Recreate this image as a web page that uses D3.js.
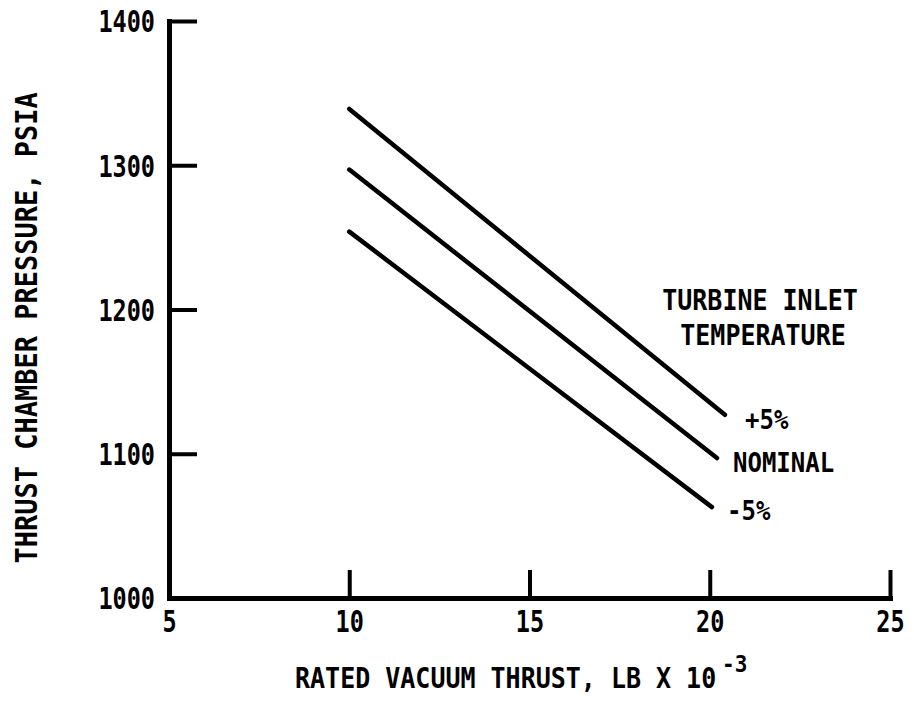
<!DOCTYPE html>
<html>
<head>
<meta charset="utf-8">
<script src="https://cdn.jsdelivr.net/npm/d3@7"></script>
<style>
  html, body { margin: 0; padding: 0; background: #fff; }
  svg { display: block; }
  text { font-family: "DejaVu Sans Mono", monospace; font-weight: bold; fill: #000; }
</style>
</head>
<body>
<svg id="chart" width="914" height="702"></svg>
<script>
// Rated vacuum thrust (lb x 10^-3) at each end of the curves
const thrust = {
  plus5: [10, 20.42],
  nominal: [10, 20.2],
  minus5: [10, 20.06]
};
// Thrust chamber pressure (psia) at those thrust values
const pressurePlus5 = [1339, 1127];
const pressureNominal = [1297, 1097];
const pressureMinus5 = [1254, 1063];

const seriesNames = ["+5%", "NOMINAL", "-5%"];
const xTicks = [5, 10, 15, 20, 25];
const yTicks = [1000, 1100, 1200, 1300, 1400];

const svg = d3.select("#chart");

const x = d3.scaleLinear().domain([5, 25]).range([169, 890]);
const y = d3.scaleLinear().domain([1000, 1400]).range([598, 21]);

// Stretched text helper: condensed, tall lettering
function label(parent, str, px, py, size, sy, anchor) {
  const g = parent.append("g").attr("transform", `translate(${px},${py}) scale(1,${sy})`);
  return g.append("text")
    .attr("x", 0).attr("y", 0)
    .attr("text-anchor", anchor || "start")
    .style("font-size", size + "px")
    .text(str);
}

// Y axis
const yAxis = svg.append("g")
  .attr("transform", `translate(${x(5)},0)`)
  .call(d3.axisLeft(y).tickValues(yTicks).tickSize(-28).tickSizeOuter(0).tickPadding(14).tickFormat(d3.format("d")));

// X axis
const xAxis = svg.append("g")
  .attr("transform", `translate(0,${y(1000)})`)
  .call(d3.axisBottom(x).tickValues(xTicks).tickSize(-28).tickSizeOuter(0).tickFormat(d3.format("d")));

[yAxis, xAxis].forEach(a => {
  a.select(".domain").attr("stroke", "#000").attr("stroke-width", 5).attr("stroke-linecap", "square");
  a.selectAll(".tick line").attr("stroke", "#000").attr("stroke-width", 4);
});

yAxis.selectAll(".tick text")
  .attr("fill", "#000")
  .attr("dy", "0.36em")
  .attr("transform", "scale(1,1.3)")
  .style("font-size", "23.5px")
  .style("font-family", "'DejaVu Sans Mono', monospace")
  .style("font-weight", "bold");

xAxis.selectAll(".tick text")
  .attr("fill", "#000")
  .attr("y", 0).attr("dy", 0)
  .attr("transform", "translate(0,34) scale(1,1.3)")
  .style("font-size", "23.5px")
  .style("font-family", "'DejaVu Sans Mono', monospace")
  .style("font-weight", "bold");

// Curves
const series = [
  { name: seriesNames[0], xs: thrust.plus5, ys: pressurePlus5 },
  { name: seriesNames[1], xs: thrust.nominal, ys: pressureNominal },
  { name: seriesNames[2], xs: thrust.minus5, ys: pressureMinus5 }
];

const line = d3.line().x(d => x(d[0])).y(d => y(d[1]));

svg.append("g").selectAll("path")
  .data(series)
  .join("path")
  .attr("d", s => line(d3.zip(s.xs, s.ys)))
  .attr("fill", "none")
  .attr("stroke", "#000")
  .attr("stroke-width", 4.5)
  .attr("stroke-linecap", "round");

// Curve labels
const annot = svg.append("g");
label(annot, "TURBINE INLET", 760, 310, 25, 1.1, "middle");
label(annot, "TEMPERATURE", 763, 345, 25, 1.1, "middle");
const labelPos = [[745, 429], [733, 472], [727, 520]];
series.forEach((s, i) => label(annot, s.name, labelPos[i][0], labelPos[i][1], 24, 1.1, "start"));

// Axis titles
label(svg, "RATED VACUUM THRUST, LB X 10", 295, 688, 25, 1.1, "start");
label(svg, "-3", 722, 672, 21, 1.1, "start");

svg.append("g")
  .attr("transform", "translate(37,328) rotate(-90) scale(1,1.12)")
  .append("text")
  .attr("text-anchor", "middle")
  .style("font-size", "27px")
  .text("THRUST CHAMBER PRESSURE, PSIA");
</script>
</body>
</html>
